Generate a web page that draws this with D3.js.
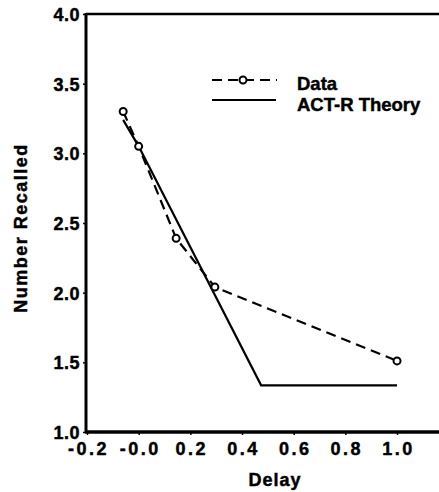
<!DOCTYPE html>
<html><head><meta charset="utf-8">
<script src="https://cdn.jsdelivr.net/npm/d3@7"></script>
<style>
html,body{margin:0;padding:0;background:#fff;}
svg{display:block;}
text{font-family:"Liberation Sans",Arial,Helvetica,sans-serif;font-weight:bold;fill:#000;stroke:#000;stroke-width:0.45px;}
</style></head>
<body>
<svg id="c" width="439" height="492"></svg>
<script>
const dataX = [-0.06, 0.0, 0.145, 0.295, 1.0];
const dataY = [3.30, 3.05, 2.39, 2.04, 1.51];
const theoryX = [-0.06, 0.0, 0.474, 1.0];
const theoryY = [3.24, 3.05, 1.335, 1.335];
const xTicks = [-0.2, 0.0, 0.2, 0.4, 0.6, 0.8, 1.0];
const xTickLabels = ["-0.2", "-0.0", "0.2", "0.4", "0.6", "0.8", "1.0"];
const yTicks = [1.0, 1.5, 2.0, 2.5, 3.0, 3.5, 4.0];
const yTickLabels = ["1.0", "1.5", "2.0", "2.5", "3.0", "3.5", "4.0"];
const seriesNames = ["Data", "ACT-R Theory"];

const svg = d3.select("#c");
const x = d3.scaleLinear().domain([-0.2, 1.2]).range([87, 448.7]);
const y = d3.scaleLinear().domain([1, 4]).range([432, 14]);

// frame
svg.append("line").attr("x1", 86).attr("x2", 439).attr("y1", y(4)).attr("y2", y(4)).attr("stroke", "#000").attr("stroke-width", 2.5);

const xAxis = d3.axisBottom(x).tickValues(xTicks).tickSize(3).tickFormat((d, i) => xTickLabels[i]);
const gx = svg.append("g").attr("transform", `translate(0,${y(1)})`).call(xAxis);
gx.select(".domain").attr("stroke-width", 3.5).attr("d", `M85,0H439`);
gx.selectAll(".tick line").attr("stroke-width", 1.5);
gx.selectAll(".tick text").attr("font-size", 18).attr("letter-spacing", 2.5).attr("dy", "0.95em").attr("dx", 1).style("font-family", "'Liberation Sans',Arial,sans-serif");

const yAxis = d3.axisLeft(y).tickValues(yTicks).tickSize(3).tickPadding(3).tickFormat((d, i) => yTickLabels[i]);
const gy = svg.append("g").attr("transform", `translate(86,0)`).call(yAxis);
gy.select(".domain").attr("stroke-width", 3).attr("d", `M0,${y(1)+1}V${y(4)-1}`);
gy.selectAll(".tick line").attr("stroke-width", 1.5);
gy.selectAll(".tick text").attr("font-size", 18).attr("letter-spacing", 0.5).attr("dy", "0.36em").style("font-family", "'Liberation Sans',Arial,sans-serif");

// axis titles
svg.append("text").attr("x", 275).attr("y", 486).attr("text-anchor", "middle").attr("font-size", 18).attr("letter-spacing", 1).text("Delay");
svg.append("text").attr("transform", "translate(27,228) rotate(-90)").attr("text-anchor", "middle").attr("font-size", 18).attr("letter-spacing", 1.5).text("Number Recalled");

const line = d3.line().x(d => x(d[0])).y(d => y(d[1]));
const theory = theoryX.map((v, i) => [v, theoryY[i]]);
const data = dataX.map((v, i) => [v, dataY[i]]);

svg.append("path").attr("d", line(theory)).attr("fill", "none").attr("stroke", "#000").attr("stroke-width", 2.2);
svg.append("path").attr("d", line(data)).attr("fill", "none").attr("stroke", "#000").attr("stroke-width", 2.2).attr("stroke-dasharray", "10,6");
svg.selectAll("circle.pt").data(data).enter().append("circle").attr("class", "pt")
  .attr("cx", d => x(d[0])).attr("cy", d => y(d[1])).attr("r", 3.5)
  .attr("fill", "#fff").attr("stroke", "#000").attr("stroke-width", 2);

// legend
const lg = svg.append("g");
lg.append("line").attr("x1", 212).attr("x2", 277).attr("y1", 80).attr("y2", 80).attr("stroke", "#000").attr("stroke-width", 2.2).attr("stroke-dasharray", "10,6");
lg.append("circle").attr("cx", 243).attr("cy", 80).attr("r", 3.5).attr("fill", "#fff").attr("stroke", "#000").attr("stroke-width", 2);
lg.append("text").attr("x", 297).attr("y", 90).attr("font-size", 18.5).text(seriesNames[0]);
lg.append("line").attr("x1", 212).attr("x2", 276).attr("y1", 100).attr("y2", 100).attr("stroke", "#000").attr("stroke-width", 2.2);
lg.append("text").attr("x", 297).attr("y", 111).attr("font-size", 18.5).text(seriesNames[1]);
</script>
</body></html>
